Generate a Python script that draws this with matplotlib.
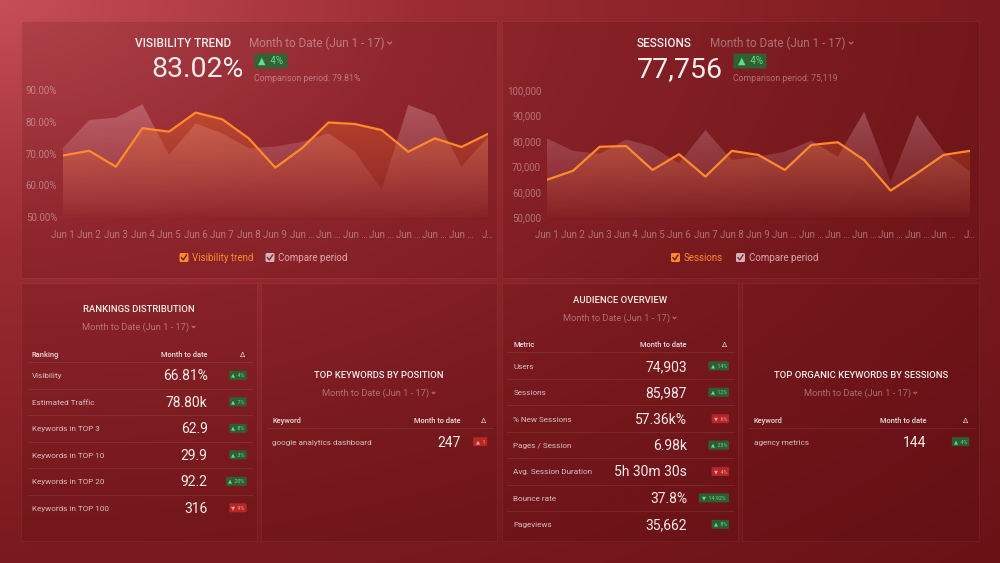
import numpy as np
import matplotlib
matplotlib.use("Agg")
import matplotlib.pyplot as plt
from matplotlib.patches import FancyBboxPatch, Rectangle

plt.rcParams['font.family'] = ['Roboto', 'DejaVu Sans']

# ---- data ----
days = ["Jun 1", "Jun 2", "Jun 3", "Jun 4", "Jun 5", "Jun 6", "Jun 7", "Jun 8", "Jun 9"] + ["Jun …"] * 7 + ["J…"]
visibility = [69.4, 70.9, 65.9, 78.0, 76.9, 82.9, 80.8, 74.8, 65.6, 71.7, 79.8, 79.3, 77.4, 70.6, 74.8, 72.1, 76.2]
visibility_prev = [71.7, 80.6, 81.3, 85.5, 69.6, 79.5, 76.4, 71.7, 72.2, 73.7, 76.4, 70.6, 58.6, 85.3, 82.1, 65.9, 75.3]
sessions = [64700, 68300, 77700, 78000, 68600, 74800, 66000, 76100, 74500, 68600, 78400, 79500, 72500, 60500,
            67300, 74500, 76100]
sessions_prev = [81000, 76100, 74900, 80600, 77700, 71200, 84300, 72500, 73800, 75800, 80100, 73800, 91500, 64000,
                 90200, 75800, 67900]
vis_ticks = [50, 60, 70, 80, 90]
vis_ticklabels = ["50.00%", "60.00%", "70.00%", "80.00%", "90.00%"]
ses_ticks = [50000, 60000, 70000, 80000, 90000, 100000]
ses_ticklabels = ["50,000", "60,000", "70,000", "80,000", "90,000", "100,000"]

rank_labels = ["Visibility", "Estimated Traffic", "Keywords in TOP 3", "Keywords in TOP 10",
               "Keywords in TOP 20", "Keywords in TOP 100"]
rank_values = ["66.81%", "78.80k", "62.9", "29.9", "92.2", "316"]
rank_deltas = ["4%", "7%", "8%", "3%", "20%", "9%"]
rank_up = [True, True, True, True, True, False]
rank_good = [True, True, True, True, True, False]

aud_labels = ["Users", "Sessions", "% New Sessions", "Pages / Session", "Avg. Session Duration",
              "Bounce rate", "Pageviews"]
aud_values = ["74,903", "85,987", "57.36k%", "6.98k", "5h 30m 30s", "37.8%", "35,662"]
aud_deltas = ["14%", "12%", "6%", "23%", "4%", "14.92%", "8%"]
aud_up = [True, True, False, True, False, False, True]
aud_good = [True, True, False, True, False, True, True]

kw_pos_labels = ["google analytics dashboard"]
kw_pos_values = ["247"]
kw_pos_deltas = ["1"]
kw_pos_up = [True]
kw_pos_good = [False]

kw_org_labels = ["agency metrics"]
kw_org_values = ["144"]
kw_org_deltas = ["4%"]
kw_org_up = [True]
kw_org_good = [True]

W, H = 1000, 563
WHITE = '#f6ecee'
SOFT = (1, 1, 1, 0.72)
FAINT = (1, 1, 1, 0.38)
ORANGE = '#ff8a2b'

fig = plt.figure(figsize=(10, 5.63), dpi=100)
bg = fig.add_axes([0, 0, 1, 1])
renderer = fig.canvas.get_renderer()

# background gradient
yy, xx = np.mgrid[0:H, 0:W]
d = np.sqrt((xx / W) ** 2 + (yy / H) ** 2) / np.sqrt(2)
stops = [0, 0.3, 0.65, 1.0]
cols = [(198, 78, 88), (156, 44, 52), (126, 28, 32), (104, 18, 22)]
img = np.dstack([np.interp(d, stops, [c[i] for c in cols]) for i in range(3)]) / 255
bg.imshow(img, extent=[0, W, H, 0], aspect='auto', zorder=0)
bg.set_xlim(0, W)
bg.set_ylim(H, 0)
bg.axis('off')

panels = [(21, 21, 476, 257), (502, 21, 477, 257), (21, 283, 236, 258),
          (261, 283, 236, 258), (502, 283, 236, 258), (742, 283, 237, 258)]
for px, py, pw, ph in panels:
    bg.add_patch(Rectangle((px, py), pw, ph, fc=(0.25, 0, 0.02, 0.14), ec=(1, 1, 1, 0.05), lw=0.8, zorder=1))


def txt(x, yc, s, fs, color=WHITE, ha='left', weight='normal'):
    return bg.text(x, yc + 0.494 * fs, s, fontsize=fs, color=color, ha=ha, va='baseline',
                   fontweight=weight, zorder=5)


def month_label(x, yc, fs, ha='left'):
    t = txt(x, yc, "Month to Date (Jun 1 - 17)", fs, color=FAINT)
    w = t.get_window_extent(renderer).width
    total = w + 0.9 * fs
    x0 = x - total / 2 if ha == 'center' else x
    t.set_x(x0)
    cx = x0 + w + 0.6 * fs
    s = 0.22 * fs
    bg.plot([cx - s, cx, cx + s], [yc - s * 0.2, yc + s * 0.8, yc - s * 0.2], color=FAINT, lw=0.9,
            solid_capstyle='round', zorder=5)


def badge(xc, yc, s, up, good, fs, w, h):
    fc = (0.14, 0.42, 0.22, 0.85) if good else (0.78, 0.17, 0.17, 0.8)
    tc = '#62dd88' if good else '#ffa0a0'
    bg.add_patch(FancyBboxPatch((xc - w / 2, yc - h / 2), w, h, boxstyle='round,pad=0,rounding_size=1.2',
                                fc=fc, ec='none', zorder=4))
    arrow = "▲" if up else "▼"
    bg.text(xc, yc, arrow + "  " + s, fontsize=fs, color=tc, ha='center', va='center', zorder=5)


def checkbox(x, yc, fc, tick):
    bg.add_patch(FancyBboxPatch((x, yc - 4.5), 9, 9, boxstyle='round,pad=0,rounding_size=1.5', fc=fc,
                                ec='none', zorder=4))
    bg.plot([x + 2, x + 3.8, x + 7], [yc + 0.2, yc + 2.4, yc - 2.4], color=tick, lw=1, zorder=5)


def trend_chart(left, right, cur, prev, ticks, ticklabels):
    top, bottom = 90, 217.3
    ax = fig.add_axes([left / W, 1 - bottom / H, (right - left) / W, (bottom - top) / H])
    ax.patch.set_alpha(0)
    x = np.arange(len(cur))
    lo, hi = ticks[0], ticks[-1]
    for vals, rgb, a0, z in [(prev, (0.95, 0.74, 0.78), 0.36, 1), (cur, (0.97, 0.44, 0.15), 0.45, 2)]:
        poly = ax.fill_between(x, vals, lo, facecolor='none', edgecolor='none')
        grad = np.zeros((256, 1, 4))
        grad[..., :3] = rgb
        grad[:, 0, 3] = np.linspace(0.02, a0, 256)
        im = ax.imshow(grad, extent=[0, len(cur) - 1, lo, hi], origin='lower', aspect='auto', zorder=z)
        im.set_clip_path(poly.get_paths()[0], transform=ax.transData)
    ax.plot(x, cur, color=ORANGE, lw=1.6, zorder=4, solid_joinstyle='round')
    ax.set_xlim(0, len(cur) - 1)
    ax.set_ylim(lo, hi)
    ax.set_yticks(ticks)
    ax.set_yticklabels(ticklabels)
    ax.set_xticks(x)
    ax.set_xticklabels(days)
    ax.tick_params(axis='y', length=0, colors=FAINT, labelsize=7, pad=4)
    ax.tick_params(axis='x', length=0, colors=FAINT, labelsize=7, pad=9)
    for sp in ax.spines.values():
        sp.set_visible(False)
    return ax


# ---- top panels ----
trend_chart(62.7, 488, visibility, visibility_prev, vis_ticks, vis_ticklabels)
trend_chart(546.7, 970, sessions, sessions_prev, ses_ticks, ses_ticklabels)

txt(135, 42.5, "VISIBILITY TREND", 8.5, weight='medium')
month_label(249, 42.5, 8.5)
txt(151, 67, "83.02%", 20.5)
badge(271, 61, "4%", True, True, 7, 33, 15)
txt(254, 77.5, "Comparison period: 79.81%", 6.3, color=FAINT)
checkbox(179.5, 257.5, ORANGE, '#6b1a10')
txt(192, 257.5, "Visibility trend", 7, color=ORANGE)
checkbox(265.5, 257.5, '#d6b3b8', '#7a2a30')
txt(277.5, 257.5, "Compare period", 7, color=(1, 0.85, 0.87, 0.75))

txt(637, 42.5, "SESSIONS", 8.5, weight='medium')
month_label(710.5, 42.5, 8.5)
txt(637, 67, "77,756", 20.5)
badge(750, 61, "4%", True, True, 7, 33, 15)
txt(733, 77.5, "Comparison period: 75,119", 6.3, color=FAINT)
checkbox(671, 257.5, ORANGE, '#6b1a10')
txt(684, 257.5, "Sessions", 7, color=ORANGE)
checkbox(736, 257.5, '#d6b3b8', '#7a2a30')
txt(749, 257.5, "Compare period", 7, color=(1, 0.85, 0.87, 0.75))


# ---- tables ----
def table(title, title_y, cx, first_col, x0, x1, x_label, x_value, x_delta, head_y, row0, dy,
          labels, values, deltas, ups, goods, last_sep=False):
    txt(cx, title_y, title, 6.8, weight='medium', ha='center')
    month_label(cx, title_y + 17.5, 6.7, ha='center')
    txt(x_label, head_y, first_col, 5.4, color=(1, 1, 1, 0.85), weight='medium')
    txt(x_value, head_y, "Month to date", 5.4, color=(1, 1, 1, 0.85), weight='medium', ha='right')
    txt(x_delta, head_y, "Δ", 5.4, color=(1, 1, 1, 0.85), ha='center')
    bg.plot([x0, x1], [head_y + 7.5, head_y + 7.5], color=(1, 1, 1, 0.08), lw=0.8, zorder=3)
    for i, (lab, val, dlt, up, good) in enumerate(zip(labels, values, deltas, ups, goods)):
        yc = row0 + i * dy
        txt(x_label, yc, lab, 5.9, color=SOFT)
        txt(x_value, yc, val, 10, ha='right')
        bw = 11 + 3.2 * len(dlt)
        badge(x_delta - 6 - (bw - 17) / 2 + 1.5, yc, dlt, up, good, 3.8, bw, 9)
        if i < len(labels) - 1 or last_sep:
            bg.plot([x0, x1], [yc + dy / 2, yc + dy / 2], color=(1, 1, 1, 0.08), lw=0.8, zorder=3)


table("RANKINGS DISTRIBUTION", 309, 139, "Ranking", 28, 252, 31.7, 207.7, 242.7, 354.3, 375.3, 26.5,
      rank_labels, rank_values, rank_deltas, rank_up, rank_good)
table("TOP KEYWORDS BY POSITION", 375, 379, "Keyword", 266.7, 493, 272.3, 461, 483.3, 420.7, 441.7, 26.5,
      kw_pos_labels, kw_pos_values, kw_pos_deltas, kw_pos_up, kw_pos_good)
table("AUDIENCE OVERVIEW", 300, 620, "Metric", 507, 734, 513.3, 687, 725, 344.3, 365.9, 26.4,
      aud_labels, aud_values, aud_deltas, aud_up, aud_good)
table("TOP ORGANIC KEYWORDS BY SESSIONS", 375, 860.7, "Keyword", 749, 975, 754, 926, 965.3, 420.7, 441.7, 26.5,
      kw_org_labels, kw_org_values, kw_org_deltas, kw_org_up, kw_org_good)

fig.savefig("out.png", dpi=100)
